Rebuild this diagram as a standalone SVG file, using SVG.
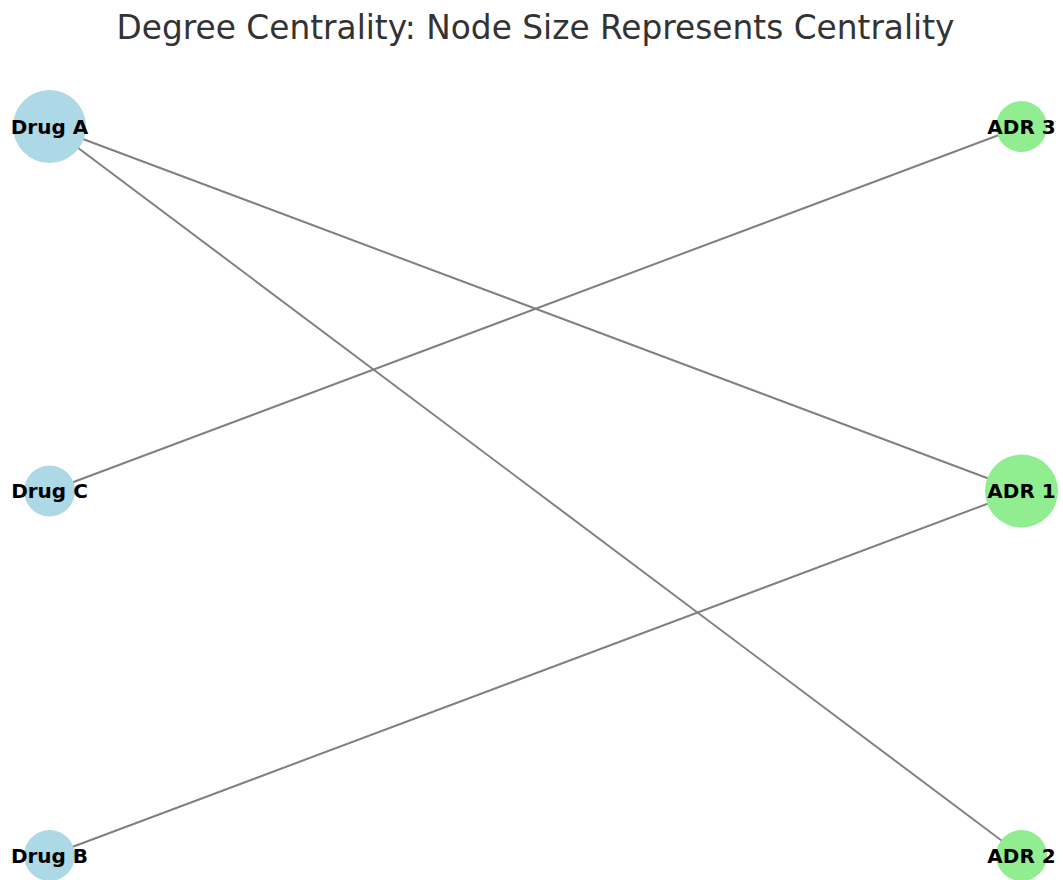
<svg xmlns="http://www.w3.org/2000/svg" width="1063" height="880" viewBox="0 0 1063 880">
<style>
.title{font-family:"DejaVu Sans",sans-serif;font-size:32.8px;fill:#333333;text-anchor:middle}
.lbl{font-family:"DejaVu Sans",sans-serif;font-weight:bold;font-size:20px;fill:#000;text-anchor:middle}
.drug{fill:#ADD8E6}
.adr{fill:#90EE90}
.edge{stroke:#808080;stroke-width:2;fill:none}
</style>
<rect width="1063" height="880" fill="#fff"/>
<text class="title" x="535.5" y="39">Degree Centrality: Node Size Represents Centrality</text>
<g id="edges">
<line class="edge" x1="49.5" y1="126.5" x2="1021.5" y2="491"/>
<line class="edge" x1="49.5" y1="126.5" x2="1021.5" y2="855.5"/>
<line class="edge" x1="49.5" y1="491" x2="1021.5" y2="126.5"/>
<line class="edge" x1="49.5" y1="855.5" x2="1021.5" y2="491"/>
</g>
<g id="drug-a"><circle class="drug" cx="49.5" cy="126.5" r="36.5"/><text class="lbl" x="49.5" y="133.5">Drug A</text></g>
<g id="drug-c"><circle class="drug" cx="49.5" cy="491" r="25.5"/><text class="lbl" x="49.5" y="498">Drug C</text></g>
<g id="drug-b"><circle class="drug" cx="49.5" cy="855.5" r="25.5"/><text class="lbl" x="49.5" y="862.5">Drug B</text></g>
<g id="adr-3"><circle class="adr" cx="1021.5" cy="126.5" r="25.5"/><text class="lbl" x="1021.5" y="133.5">ADR 3</text></g>
<g id="adr-1"><circle class="adr" cx="1021.5" cy="491" r="36.5"/><text class="lbl" x="1021.5" y="498">ADR 1</text></g>
<g id="adr-2"><circle class="adr" cx="1021.5" cy="855.5" r="25.5"/><text class="lbl" x="1021.5" y="862.5">ADR 2</text></g>
</svg>
